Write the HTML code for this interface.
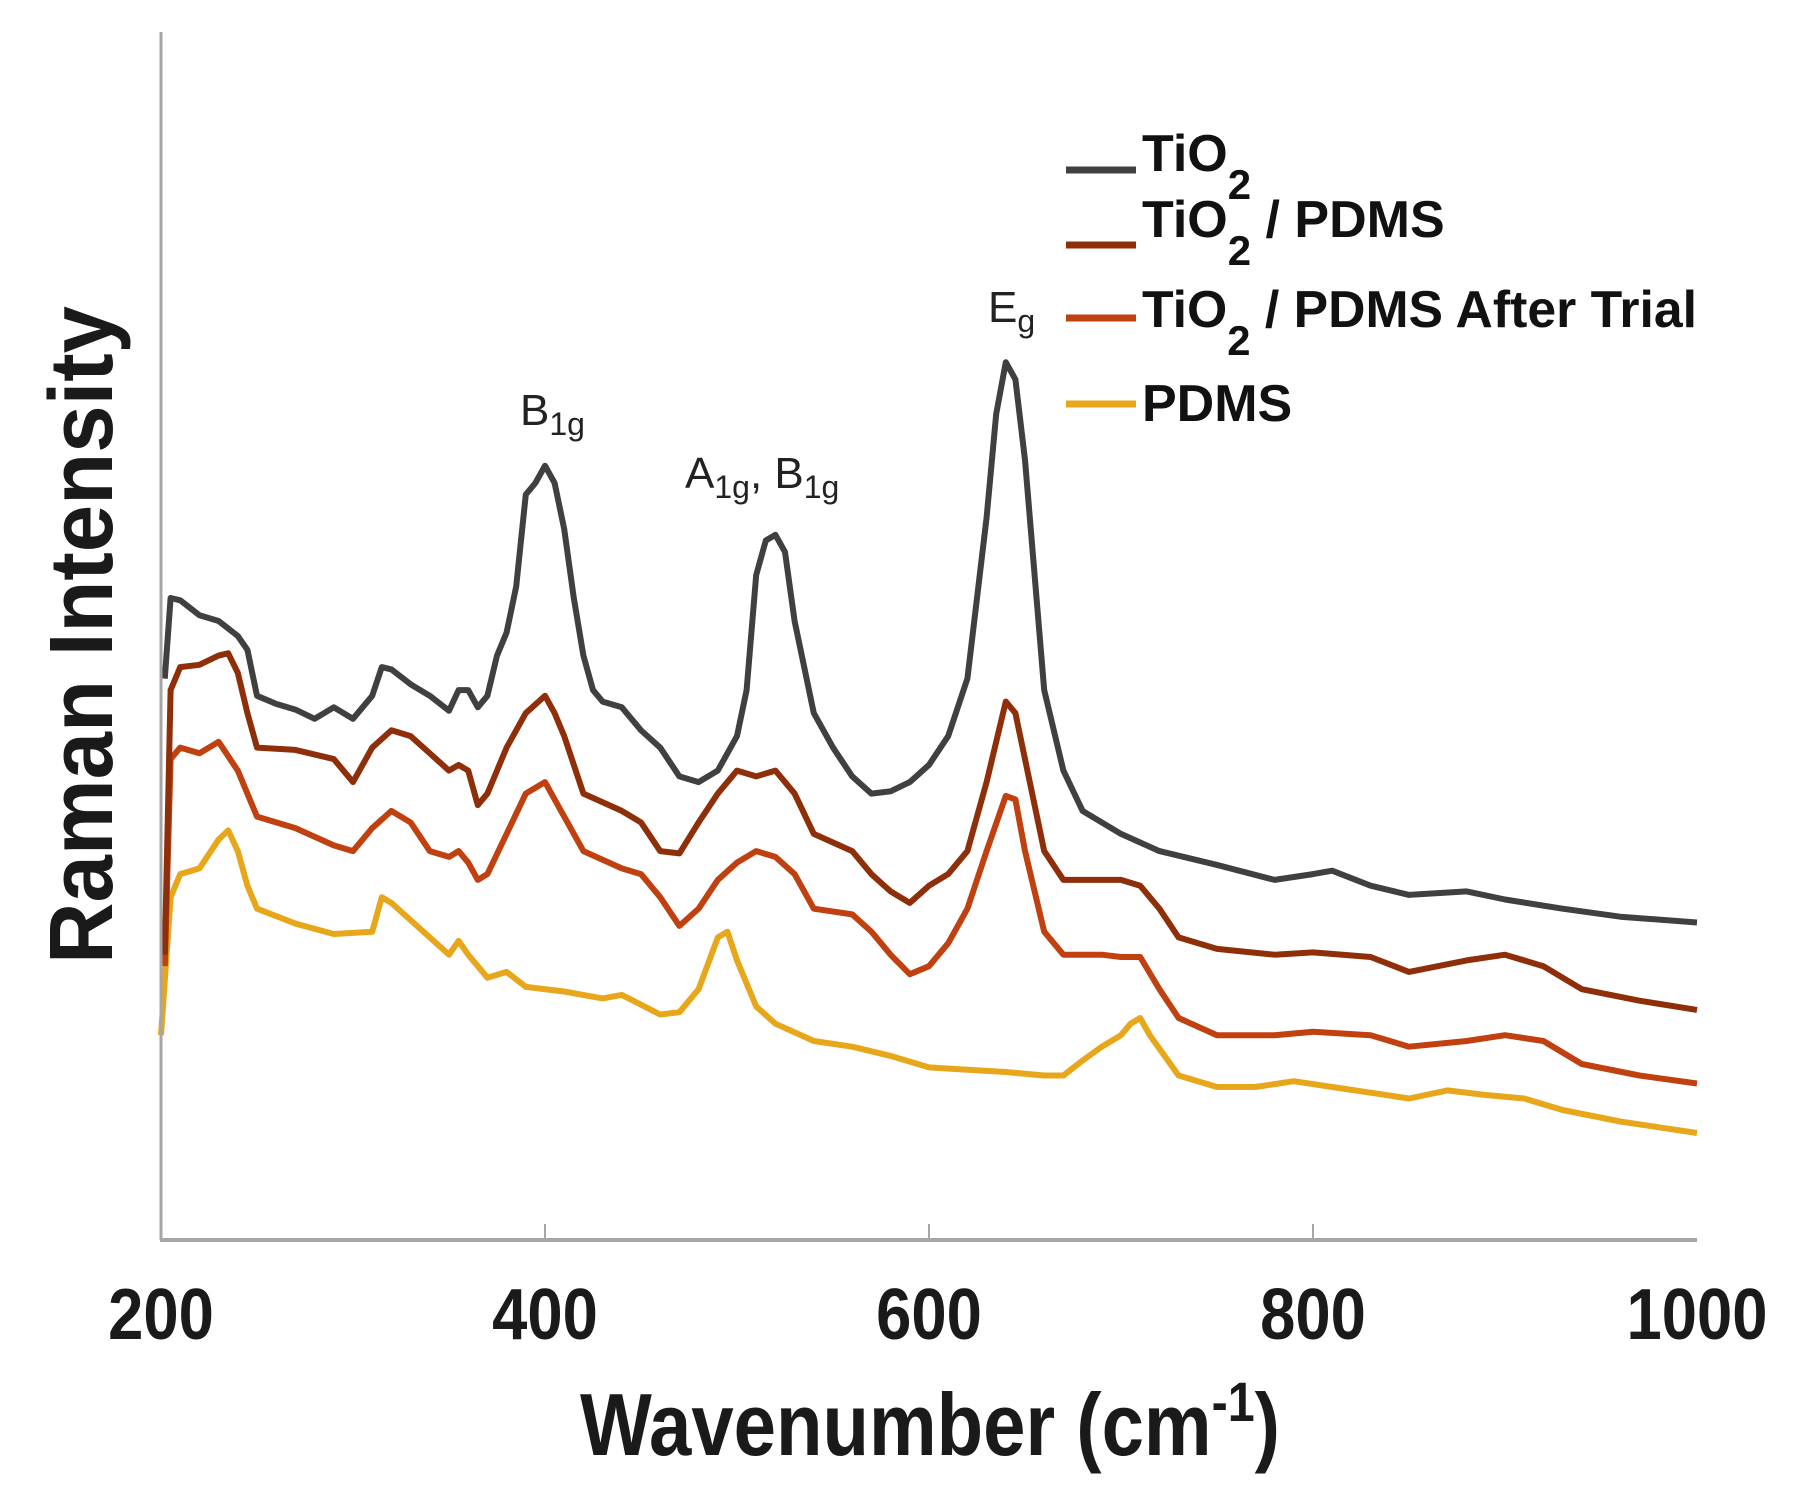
<!DOCTYPE html>
<html><head><meta charset="utf-8"><style>
html,body{margin:0;padding:0;background:#fff;}
svg{display:block;}
text{font-family:"Liberation Sans",sans-serif;}
</style></head><body>
<svg id="chart" width="1801" height="1501" viewBox="0 0 1801 1501" xmlns="http://www.w3.org/2000/svg">
<g id="series"></g>
<line x1="161" y1="32" x2="161" y2="1240" stroke="#a6a6a6" stroke-width="3"/>
<line x1="160" y1="1240" x2="1697" y2="1240" stroke="#a6a6a6" stroke-width="4"/>
<g id="ticks"></g>
<text x="930" y="1455" text-anchor="middle" font-weight="bold" font-size="88" fill="#1a1a1a" textLength="700" lengthAdjust="spacingAndGlyphs">Wavenumber (cm<tspan dy="-34" font-size="56">-1</tspan><tspan dy="34">)</tspan></text>
<text transform="translate(112,635) rotate(-90)" text-anchor="middle" font-weight="bold" font-size="90" fill="#1a1a1a" textLength="658" lengthAdjust="spacingAndGlyphs">Raman Intensity</text>
<text x="520" y="425" font-size="44" fill="#222">B<tspan dy="10" font-size="32">1g</tspan></text>
<text x="685" y="488" font-size="44" fill="#222">A<tspan dy="10" font-size="32">1g</tspan><tspan dy="-10">, B</tspan><tspan dy="10" font-size="32">1g</tspan></text>
<text x="988" y="322" font-size="44" fill="#222">E<tspan dy="10" font-size="32">g</tspan></text>
<g font-weight="bold" fill="#111">
<line x1="1066" y1="170" x2="1136" y2="170" stroke="#404040" stroke-width="7"/>
<text x="1142" y="171" font-size="52">TiO<tspan dy="28" font-size="42">2</tspan></text>
<line x1="1066" y1="245" x2="1136" y2="245" stroke="#8f2f0a" stroke-width="7"/>
<text x="1142" y="237" font-size="52">TiO<tspan dy="28" font-size="42">2</tspan><tspan dy="-28"> / PDMS</tspan></text>
<line x1="1066" y1="318" x2="1136" y2="318" stroke="#c0400f" stroke-width="7"/>
<text x="1142" y="327" font-size="52" textLength="555" lengthAdjust="spacingAndGlyphs">TiO<tspan dy="28" font-size="42">2</tspan><tspan dy="-28"> / PDMS After Trial</tspan></text>
<line x1="1066" y1="404" x2="1136" y2="404" stroke="#e8a71a" stroke-width="7"/>
<text x="1142" y="421" font-size="52">PDMS</text>
</g>
</svg>
<script>
const xTicks = [200, 400, 600, 800, 1000];
const xTickLabels = ["200", "400", "600", "800", "1000"];
const tio2X = [202,205,210,220,230,240,245,250,260,270,280,290,300,310,315,320,330,340,350,355,360,365,370,375,380,385,390,395,400,405,410,415,420,425,430,440,450,460,470,480,490,500,505,510,515,520,525,530,540,550,560,570,580,590,600,610,620,630,635,640,645,650,655,660,670,680,700,720,750,780,800,810,830,850,880,900,930,960,1000];
const tio2Y = [488,558,556,543,538,525,513,473,466,461,453,463,453,473,498,496,483,473,460,478,478,463,473,508,528,568,648,658,673,658,618,558,508,478,468,463,443,428,403,398,408,438,478,578,608,613,598,538,458,428,403,388,390,398,413,438,488,628,718,763,748,678,578,478,408,373,353,338,326,313,318,321,308,300,303,296,288,281,276];
const tpX = [202,205,210,220,230,235,240,245,250,270,290,300,310,320,330,340,350,355,360,365,370,380,390,400,405,410,420,440,450,460,470,480,490,500,510,520,530,540,560,570,580,590,600,610,620,630,640,645,650,660,670,690,700,710,720,730,750,780,800,830,850,880,900,920,940,970,1000];
const tpY = [248,478,498,500,508,510,493,458,428,426,418,398,428,443,438,423,408,413,408,378,388,428,458,473,458,438,388,373,363,338,336,363,388,408,403,408,388,353,338,318,303,293,308,318,338,398,468,458,418,338,313,313,313,308,288,263,253,248,250,246,233,243,248,238,218,208,200];
const atX = [202,205,210,220,230,240,250,270,290,300,310,320,330,340,350,355,360,365,370,380,390,400,410,420,440,450,460,470,480,490,500,510,520,530,540,560,570,580,590,600,610,620,630,640,645,650,660,670,690,700,710,720,730,750,780,800,830,850,880,900,920,940,970,1000];
const atY = [238,418,428,423,433,408,368,358,343,338,358,373,363,338,333,338,328,313,318,353,388,398,368,338,323,318,298,273,288,313,328,338,333,318,288,283,268,248,231,238,258,288,338,386,383,338,268,248,248,246,246,218,193,178,178,181,178,168,173,178,173,153,143,136];
const pdX = [200,205,210,220,230,235,240,245,250,270,290,310,315,320,330,340,350,355,360,370,380,390,410,430,440,460,470,480,490,495,500,510,520,540,560,580,600,620,640,660,670,680,690,700,705,710,715,730,750,770,790,810,830,850,870,890,910,930,960,1000];
const pdY = [178,298,318,323,348,356,338,308,288,275,266,268,298,293,278,263,248,260,248,228,233,220,216,210,213,196,198,218,263,268,243,203,188,173,168,160,150,148,146,143,143,156,168,178,188,193,178,143,133,133,138,133,128,123,130,126,123,113,103,93];

const X0 = 161, X1 = 1697, Y0 = 1240, Y1 = 32;
function xScale(w){ return X0 + (w - 200) / 800 * (X1 - X0); }
function yScale(v){ return Y0 - v / 1050 * (Y0 - Y1); }
const NS = "http://www.w3.org/2000/svg";
const seriesG = document.getElementById("series");
function drawSeries(xs, ys, color, name){
  const p = document.createElementNS(NS, "path");
  let d = "";
  for (let i = 0; i < xs.length; i++) d += (i ? "L" : "M") + xScale(xs[i]).toFixed(1) + "," + yScale(ys[i]).toFixed(1);
  p.setAttribute("d", d);
  p.setAttribute("fill", "none");
  p.setAttribute("stroke", color);
  p.setAttribute("stroke-width", "6");
  p.setAttribute("stroke-linejoin", "round");
  
  
  seriesG.appendChild(p);
}
drawSeries(pdX, pdY, "#e8a71a", "series-pdms");
drawSeries(atX, atY, "#c0400f", "series-tio2-pdms-after-trial");
drawSeries(tpX, tpY, "#8f2f0a", "series-tio2-pdms");
drawSeries(tio2X, tio2Y, "#404040", "series-tio2");

const tg = document.getElementById("ticks");
xTicks.forEach((t, i) => {
  const x = xScale(t);
  if (i > 0 && i < xTicks.length - 1) {
    const l = document.createElementNS(NS, "line");
    l.setAttribute("x1", x); l.setAttribute("x2", x);
    l.setAttribute("y1", Y0 - 16); l.setAttribute("y2", Y0);
    l.setAttribute("stroke", "#a6a6a6"); l.setAttribute("stroke-width", "2");
    
    
    tg.appendChild(l);
  }
  const tx = document.createElementNS(NS, "text");
  tx.setAttribute("x", x); tx.setAttribute("y", 1339);
  tx.setAttribute("text-anchor", "middle");
  tx.setAttribute("font-size", "72");
  tx.setAttribute("font-weight", "bold");
  tx.setAttribute("fill", "#1a1a1a");
  tx.setAttribute("transform", "translate(" + x + ",0) scale(0.88,1) translate(" + (-x) + ",0)");
  tx.textContent = xTickLabels[i];
  
  
  tg.appendChild(tx);
});
</script>
</body></html>
